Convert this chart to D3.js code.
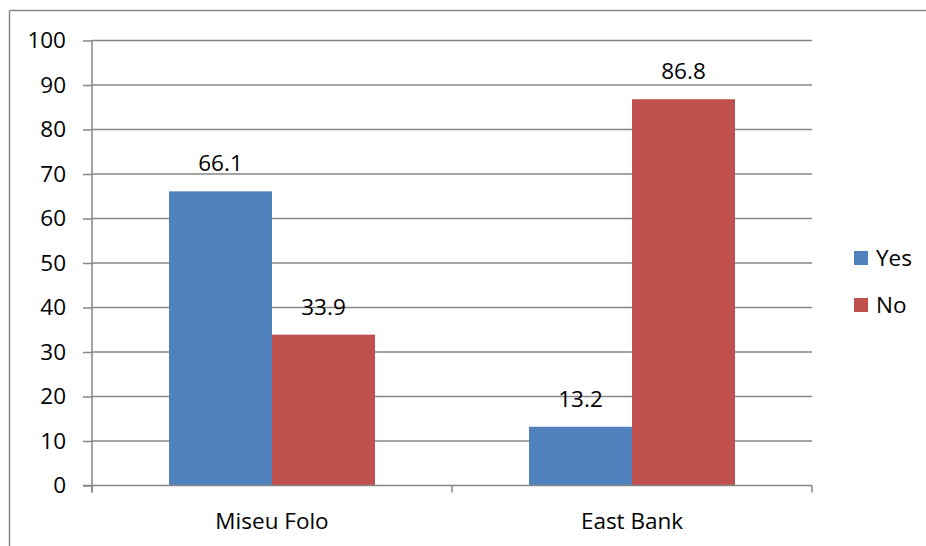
<!DOCTYPE html>
<html>
<head>
<meta charset="utf-8">
<script src="https://cdn.jsdelivr.net/npm/d3@7/dist/d3.min.js"></script>
<style>
  html, body { margin: 0; padding: 0; background: #fff; overflow: hidden; }
  svg { display: block; }
  text { font-family: "Open Sans", "Liberation Sans", sans-serif; fill: #000; }
</style>
</head>
<body>
<svg id="chart" width="926" height="546"></svg>
<script>
// Survey answers by site (percent)
const categories = ["Miseu Folo", "East Bank"];
const seriesNames = ["Yes", "No"];
const yesValues = [66.1, 13.2];
const noValues = [33.9, 86.8];
const yTicks = [0, 10, 20, 30, 40, 50, 60, 70, 80, 90, 100];
const colors = ["#4F81BD", "#C0504D"];

const seriesValues = [yesValues, noValues];
const rows = categories.map((c, i) => ({
  category: c,
  values: seriesNames.map((s, j) => ({ series: s, value: seriesValues[j][i] }))
}));

const svg = d3.select("#chart");
const W = 926, H = 546;
const plot = { left: 92, right: 812, top: 40.5, bottom: 485.5 };
const axisColor = "#868686";
const fontSize = 22.5;

// outer chart frame (top and left edges fall inside the canvas)
svg.append("line")
  .attr("x1", 9.5).attr("x2", W).attr("y1", 10.5).attr("y2", 10.5)
  .attr("stroke", axisColor).attr("stroke-width", 1.5);
svg.append("line")
  .attr("x1", 9.5).attr("x2", 9.5).attr("y1", 10.5).attr("y2", H)
  .attr("stroke", axisColor).attr("stroke-width", 1.5);

const x0 = d3.scaleBand()
  .domain(categories)
  .range([plot.left, plot.right])
  .paddingInner(0).paddingOuter(0);

const groupFrac = 206 / 360;
const x1 = d3.scaleBand()
  .domain(seriesNames)
  .range([0, x0.bandwidth() * groupFrac]);
const groupOffset = (x0.bandwidth() - x1.range()[1]) / 2;

const y = d3.scaleLinear().domain([0, 100]).range([plot.bottom, plot.top]);

// horizontal gridlines
svg.append("g")
  .selectAll("line")
  .data(yTicks.filter(t => t > 0))
  .join("line")
  .attr("x1", plot.left).attr("x2", plot.right)
  .attr("y1", d => y(d)).attr("y2", d => y(d))
  .attr("stroke", axisColor).attr("stroke-width", 1.5);

// bars
const groups = svg.append("g")
  .selectAll("g")
  .data(rows)
  .join("g")
  .attr("transform", d => `translate(${x0(d.category) + groupOffset},0)`);

groups.selectAll("rect")
  .data(d => d.values)
  .join("rect")
  .attr("x", d => x1(d.series))
  .attr("width", x1.bandwidth())
  .attr("y", d => y(d.value))
  .attr("height", d => y(0) - y(d.value))
  .attr("fill", (d, i) => colors[i]);

// value labels
groups.selectAll("text")
  .data(d => d.values)
  .join("text")
  .attr("x", d => x1(d.series) + x1.bandwidth() / 2)
  .attr("y", d => y(d.value) - 20)
  .attr("text-anchor", "middle")
  .attr("font-size", fontSize)
  .text(d => d.value.toFixed(1));

// y axis
const yAxis = svg.append("g")
  .attr("transform", `translate(${plot.left},0)`)
  .call(d3.axisLeft(y).tickValues(yTicks).tickSize(9).tickPadding(17).tickSizeOuter(0));
yAxis.select(".domain").attr("stroke", axisColor).attr("stroke-width", 1.5)
  .attr("d", `M0,${plot.top}V${plot.bottom + 7}`);
yAxis.selectAll(".tick line").attr("stroke", axisColor).attr("stroke-width", 1.5);
yAxis.selectAll(".tick text").attr("font-size", fontSize)
  .attr("font-family", "'Open Sans', 'Liberation Sans', sans-serif").attr("fill", "#000");

// x axis with boundary ticks between categories
const xAxis = svg.append("g").attr("transform", `translate(0,${plot.bottom})`);
xAxis.append("line")
  .attr("x1", plot.left - 9).attr("x2", plot.right)
  .attr("stroke", axisColor).attr("stroke-width", 1.5);
const boundaries = categories.map(c => x0(c)).concat([x0(categories[categories.length - 1]) + x0.bandwidth()]);
xAxis.selectAll("line.b")
  .data(boundaries)
  .join("line")
  .attr("class", "b")
  .attr("x1", d => d).attr("x2", d => d)
  .attr("y1", 0).attr("y2", 7)
  .attr("stroke", axisColor).attr("stroke-width", 1.5);
xAxis.selectAll("text")
  .data(categories)
  .join("text")
  .attr("x", d => x0(d) + x0.bandwidth() / 2)
  .attr("y", 43)
  .attr("text-anchor", "middle")
  .attr("font-size", fontSize)
  .text(d => d);

// legend
const legend = svg.append("g")
  .selectAll("g")
  .data(seriesNames)
  .join("g")
  .attr("transform", (d, i) => `translate(854,${258 + i * 47})`);
legend.append("rect")
  .attr("x", 0).attr("y", -7)
  .attr("width", 14).attr("height", 14)
  .attr("fill", (d, i) => colors[i]);
legend.append("text")
  .attr("x", 22).attr("y", 0)
  .attr("dy", "0.35em")
  .attr("font-size", fontSize)
  .text(d => d);
</script>
</body>
</html>
